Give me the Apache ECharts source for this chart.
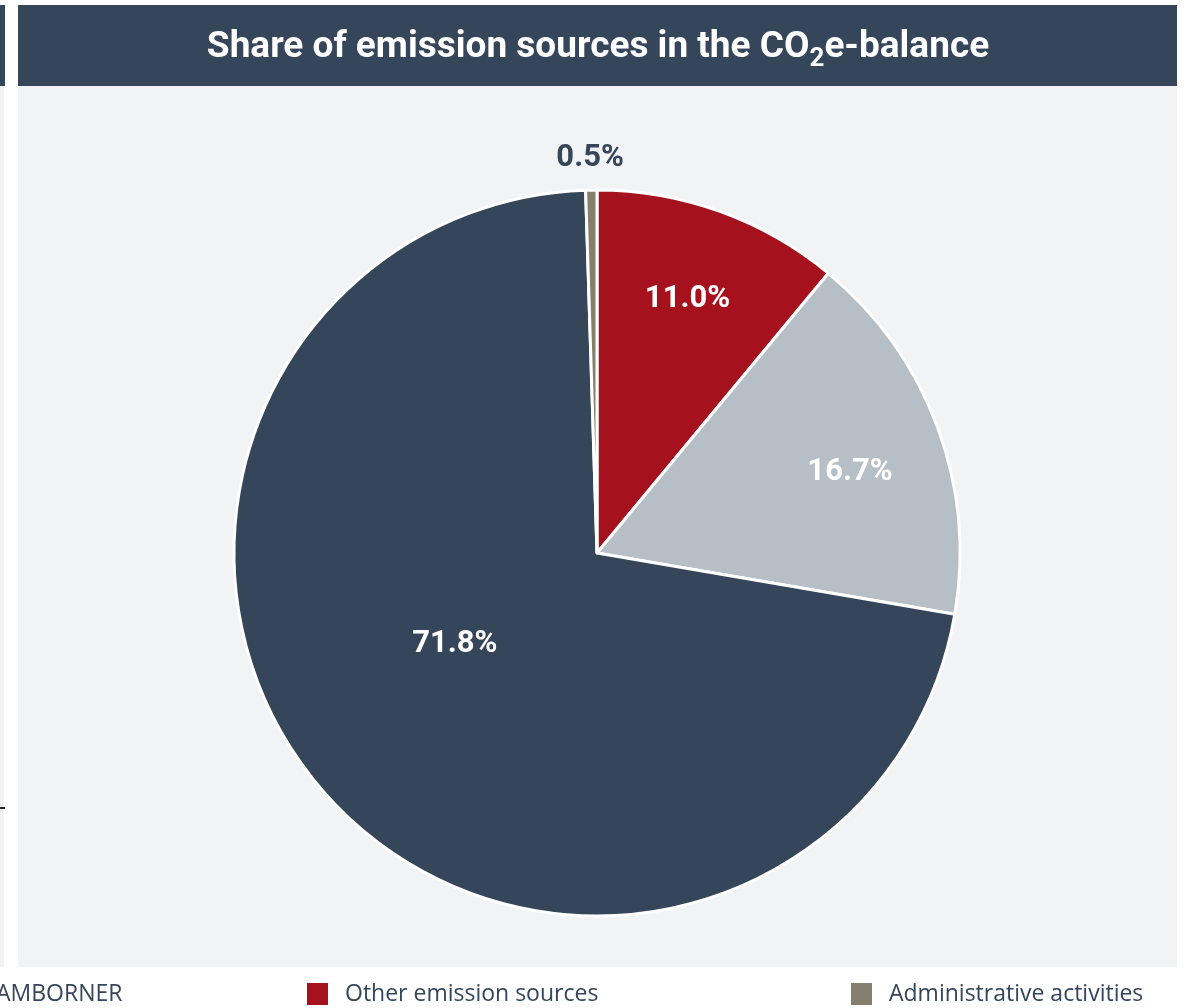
<!DOCTYPE html>
<html><head><meta charset="utf-8">
<script src="https://cdn.jsdelivr.net/npm/echarts@6/dist/echarts.min.js"></script>
<style>html,body{margin:0;padding:0;background:#fff}#c{width:1189px;height:1008px}</style>
</head><body><div id="c"></div>
<script>
// ---- data ----
const categories = ['Other emission sources', 'Tenants', 'AMBORNER', 'Administrative activities'];
const values = [11.0, 16.7, 71.8, 0.5];
const sliceColors = ['#a5121d', '#b7bfc6', '#35455a', '#867f6e'];
const labelColors = ['#ffffff', '#ffffff', '#ffffff', '#35455a'];
const labelOffsets = [[28, -80], [80, -17], [-3, -30], [-4, -210]];
const titleMain = 'Share of emission sources in the CO';
const titleSub = '2';
const titleEnd = 'e-balance';

const DARK = '#35455a';
const PANEL = '#f2f3f5';

const chart = echarts.init(document.getElementById('c'), null, {renderer: 'canvas'});

const pieData = categories.map((n, i) => ({
  name: n, value: values[i],
  itemStyle: {color: sliceColors[i]},
  label: {color: labelColors[i]}
}));

function legendFor(name, left) {
  return {
    data: [name], left: left, top: 981, orient: 'horizontal',
    icon: 'rect', itemWidth: 23, itemHeight: 24, padding: 0,
    selectedMode: false,
    textStyle: {fontFamily: 'Open Sans', fontSize: 23, color: DARK, padding: [4, 0, 0, 11]}
  };
}

chart.setOption({
  animation: false,
  backgroundColor: '#ffffff',
  graphic: [
    {type: 'rect', shape: {x: -10, y: 5, width: 15, height: 81}, style: {fill: DARK}, silent: true},
    {type: 'rect', shape: {x: -10, y: 86, width: 14, height: 881}, style: {fill: PANEL}, silent: true},
    {type: 'rect', shape: {x: 0, y: 807, width: 5, height: 2}, style: {fill: '#222'}, silent: true},
    {type: 'rect', shape: {x: 18, y: 5, width: 1159, height: 81}, style: {fill: DARK}, silent: true},
    {type: 'rect', shape: {x: 18, y: 86, width: 1159, height: 881}, style: {fill: PANEL}, silent: true},
    {type: 'text', x: 598, y: 48, silent: true, z: 10,
      style: {
        text: '{a|' + titleMain + '}{s|' + titleSub + '}{a|' + titleEnd + '}',
        align: 'center', verticalAlign: 'middle',
        rich: {
          a: {fontFamily: 'Roboto', fontWeight: 'bold', fontSize: 37, fill: '#ffffff', lineHeight: 48},
          s: {fontFamily: 'Roboto', fontWeight: 'bold', fontSize: 26, fill: '#ffffff', verticalAlign: 'bottom'}
        }
      }
    }
  ],
  legend: [
    legendFor('AMBORNER', -44),
    legendFor('Other emission sources', 305),
    legendFor('Administrative activities', 849)
  ],
  series: [{
    type: 'pie',
    center: [597, 553],
    radius: 363,
    startAngle: 90,
    clockwise: true,
    z: 5,
    data: pieData,
    itemStyle: {borderColor: '#ffffff', borderWidth: 3},
    emphasis: {disabled: true},
    label: {
      show: true, position: 'inside',
      fontFamily: 'Roboto', fontWeight: 'bold', fontSize: 31,
      formatter: p => p.value.toFixed(1) + '%'
    },
    labelLine: {show: false},
    labelLayout: p => ({dx: labelOffsets[p.dataIndex][0], dy: labelOffsets[p.dataIndex][1]})
  }]
});
</script></body></html>
